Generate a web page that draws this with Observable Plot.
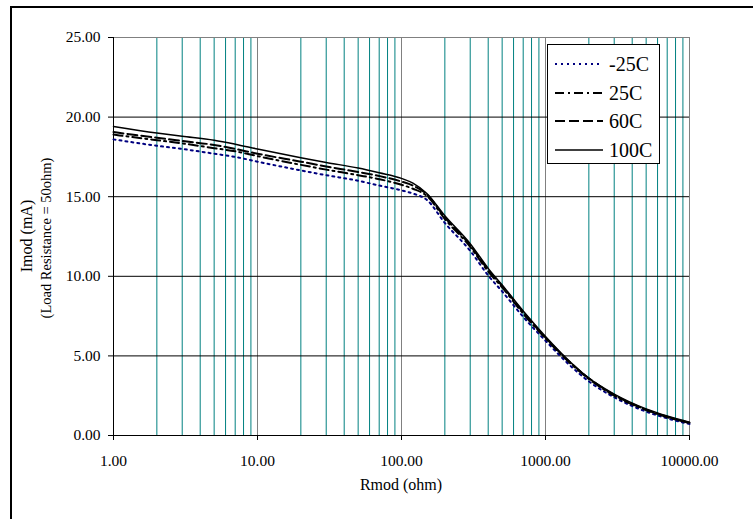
<!DOCTYPE html>
<html><head><meta charset="utf-8">
<script src="https://cdn.jsdelivr.net/npm/d3@7"></script>
<script src="https://cdn.jsdelivr.net/npm/@observablehq/plot@0.6"></script>
<style>
body{margin:0;background:#fff;}
#wrap{position:relative;width:753px;height:519px;overflow:hidden;font-family:"Liberation Serif","Times New Roman",serif;color:#000;}
#chart svg, #chart svg text{font-family:"Liberation Serif","Times New Roman",serif !important;}
#frame{position:absolute;left:10px;top:6px;width:900px;height:700px;border-left:2px solid #000;border-top:2px solid #000;pointer-events:none;}
#chart{position:absolute;left:0;top:0;}
.xt{position:absolute;left:301px;width:200px;top:477px;text-align:center;font-size:16px;line-height:16px;}
.yt{position:absolute;white-space:nowrap;transform:translate(-50%,-50%) rotate(-90deg);line-height:1;}
#legend{position:absolute;left:547px;top:44px;width:111px;height:118px;border:1px solid #000;background:#fff;}
.row{position:absolute;left:0;height:24px;width:111px;}
.row svg{position:absolute;left:7px;top:0;}
.row span{position:absolute;left:61px;top:0;font-size:20px;line-height:24px;font-family:"Liberation Serif","Times New Roman",serif;}
</style></head>
<body>
<div id="wrap">
  <div id="chart"></div>
  <div id="frame"></div>
  <div class="yt" style="left:27px;top:236px;font-size:16px;">Imod (mA)</div>
  <div class="yt" style="left:46px;top:238px;font-size:14.5px;">(Load Resistance = 50ohm)</div>
  <div class="xt">Rmod (ohm)</div>
  <div id="legend"></div>
</div>
<script>
// Data
const rmod = [1,2,3,5,7,10,20,30,50,70,100,120,150,200,300,400,500,700,1000,1500,2000,3000,5000,7000,10000];
const imodM25 = [18.6,18.2,18.0,17.7,17.5,17.2,16.65,16.35,16.0,15.7,15.4,15.2,14.8,13.35,11.6,10.05,9.05,7.45,5.95,4.35,3.4,2.4,1.5,1.08,0.72];
const imod25  = [18.9,18.55,18.35,18.05,17.85,17.55,17.0,16.7,16.35,16.1,15.75,15.5,15.05,13.6,11.85,10.3,9.3,7.65,6.1,4.5,3.55,2.5,1.6,1.15,0.78];
const imod60  = [19.06,18.7,18.5,18.25,18.0,17.7,17.2,16.9,16.55,16.3,15.95,15.7,15.15,13.7,11.95,10.4,9.4,7.75,6.15,4.55,3.6,2.55,1.62,1.18,0.8];
const imod100 = [19.41,19.0,18.8,18.55,18.3,18.0,17.45,17.15,16.8,16.5,16.15,15.85,15.2,13.8,12.05,10.5,9.45,7.82,6.22,4.58,3.6,2.6,1.67,1.22,0.83];
const seriesNames = ["-25C","25C","60C","100C"];
const xTicks = [1,10,100,1000,10000];
const yTicks = [0,5,10,15,20,25];

const minorX = [];
for (const d of [1,10,100,1000]) for (let k = 2; k <= 9; k++) minorX.push(d*k);

const styles = {
  "-25C": {stroke:"#000080", strokeWidth:2, strokeDasharray:"2,4"},
  "25C":  {stroke:"#000", strokeWidth:2, strokeDasharray:"9,4,2,4"},
  "60C":  {stroke:"#000", strokeWidth:2, strokeDasharray:"10,4"},
  "100C": {stroke:"#000", strokeWidth:1.5}
};
const values = {"-25C":imodM25,"25C":imod25,"60C":imod60,"100C":imod100};
const table = name => rmod.map((r,i)=>({r, i: values[name][i]}));

const chart = Plot.plot({
  width: 753, height: 519,
  marginLeft: 113, marginRight: 64, marginTop: 37, marginBottom: 84,
  x: {type: "log", domain: [1, 10000]},
  y: {domain: [0, 25]},
  style: {fontFamily: "'Liberation Serif', 'Times New Roman', serif", fontSize: "15.5px", background: "transparent", color: "#000"},
  marks: [
    Plot.ruleX(minorX, {stroke: "#008080", strokeWidth: 1}),
    Plot.ruleX(xTicks.slice(1), {stroke: "#808080", strokeWidth: 1}),
    Plot.ruleY(yTicks.slice(1, -1), {stroke: "#000", strokeWidth: 1}),
    Plot.ruleY([25], {stroke: "#808080"}),
    Plot.ruleX([1], {stroke: "#000"}),
    Plot.ruleY([0], {stroke: "#000"}),
    ...seriesNames.map(n => Plot.line(table(n), {x: "r", y: "i", curve: "monotone-x", ...styles[n]})),
    Plot.axisX({ticks: xTicks, tickFormat: d3.format(".2f"), tickSize: 5, tickPadding: 14, label: null}),
    Plot.axisY({ticks: yTicks, tickFormat: d3.format(".2f"), tickSize: 5, tickPadding: 8, label: null})
  ]
});
document.getElementById("chart").appendChild(chart);

// Legend
const lg = document.getElementById("legend");
seriesNames.forEach((n, k) => {
  const s = styles[n];
  const row = document.createElement("div");
  row.className = "row";
  row.style.top = (7 + k * 28.7) + "px";
  row.innerHTML = `<svg width="50" height="24"><line x1="0" x2="48" y1="12" y2="12" stroke="${s.stroke}" stroke-width="${s.strokeWidth}" ${s.strokeDasharray ? `stroke-dasharray="${s.strokeDasharray}"` : ""}/></svg><span>${n}</span>`;
  lg.appendChild(row);
});
</script>
</body></html>
